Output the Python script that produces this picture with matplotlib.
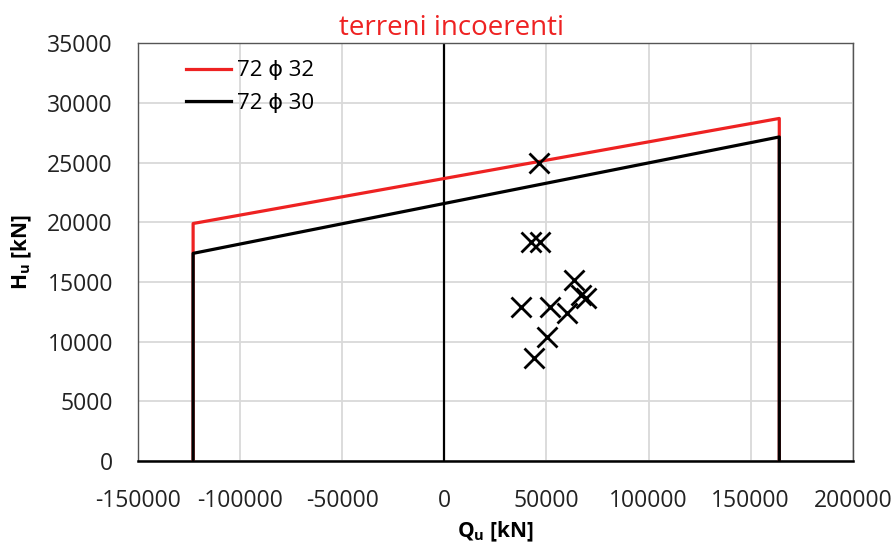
import numpy as np
import matplotlib
matplotlib.use('Agg')
import matplotlib.pyplot as plt

plt.rcParams['font.family'] = ['Open Sans', 'DejaVu Sans']
plt.rcParams['mathtext.fontset'] = 'custom'
plt.rcParams['mathtext.bf'] = 'Open Sans:bold'
plt.rcParams['mathtext.rm'] = 'Open Sans'
plt.rcParams['axes.unicode_minus'] = False

# dominio di resistenza (Q, H) per le due armature
q_dom = np.array([-123000, -123000, 164000, 164000])
h_72phi32 = np.array([0, 19900, 28700, 0])
h_72phi30 = np.array([0, 17400, 27150, 0])

# sollecitazioni sui pali
q_pali = np.array([46200, 42500, 46600, 63400, 37600, 51500, 60100, 67000, 69500, 50300, 44100])
h_pali = np.array([24930, 18370, 18370, 15160, 12920, 12920, 12370, 13900, 13630, 10360, 8650])

fig = plt.figure(figsize=(8.93, 5.47), dpi=100)
ax = fig.add_axes([0.1545, 0.157, 0.8005, 0.764])

ax.plot(q_dom, h_72phi32, color='#ee2222', lw=2.3, label='72 ϕ 32', zorder=3)
ax.plot(q_dom, h_72phi30, color='black', lw=2.3, label='72 ϕ 30', zorder=4)
ax.plot(q_pali, h_pali, ls='none', marker='x', ms=14, mew=2.0, color='black', zorder=5)

# asse verticale in Q = 0
ax.axvline(0, color='black', lw=1.6, zorder=2)

ax.set_xlim(-150000, 200000)
ax.set_ylim(0, 35000)
ax.set_xticks(np.arange(-150000, 200001, 50000))
ax.set_yticks(np.arange(0, 35001, 5000))
ax.grid(True, color='#d9d9d9', lw=1.3, zorder=0)
ax.set_axisbelow(True)
ax.tick_params(length=0, labelsize=16.5, colors='#222222')
ax.tick_params(axis='x', pad=20)
ax.tick_params(axis='y', pad=18)

for s in ['left', 'top', 'right']:
    ax.spines[s].set_color('#555555')
    ax.spines[s].set_linewidth(1.0)
ax.spines['bottom'].set_color('black')
ax.spines['bottom'].set_linewidth(1.8)

fig.text(0.506, 0.948, 'terreni incoerenti', color='#ee2222', fontsize=20,
         ha='center', va='center')
fig.text(0.025, 0.54, r'H$_\mathbf{u}$ [kN]', rotation=90, fontsize=15,
         fontweight='bold', ha='center', va='center')
fig.text(0.555, 0.006, r'Q$_\mathbf{u}$ [kN]', fontsize=15,
         fontweight='bold', ha='center', va='bottom')

ax.legend(loc='upper left', bbox_to_anchor=(0.055, 0.98), frameon=False,
          fontsize=16, handlelength=2.0, handletextpad=0.3, labelspacing=0.5,
          borderaxespad=0)

fig.savefig('out.png', dpi=100)
